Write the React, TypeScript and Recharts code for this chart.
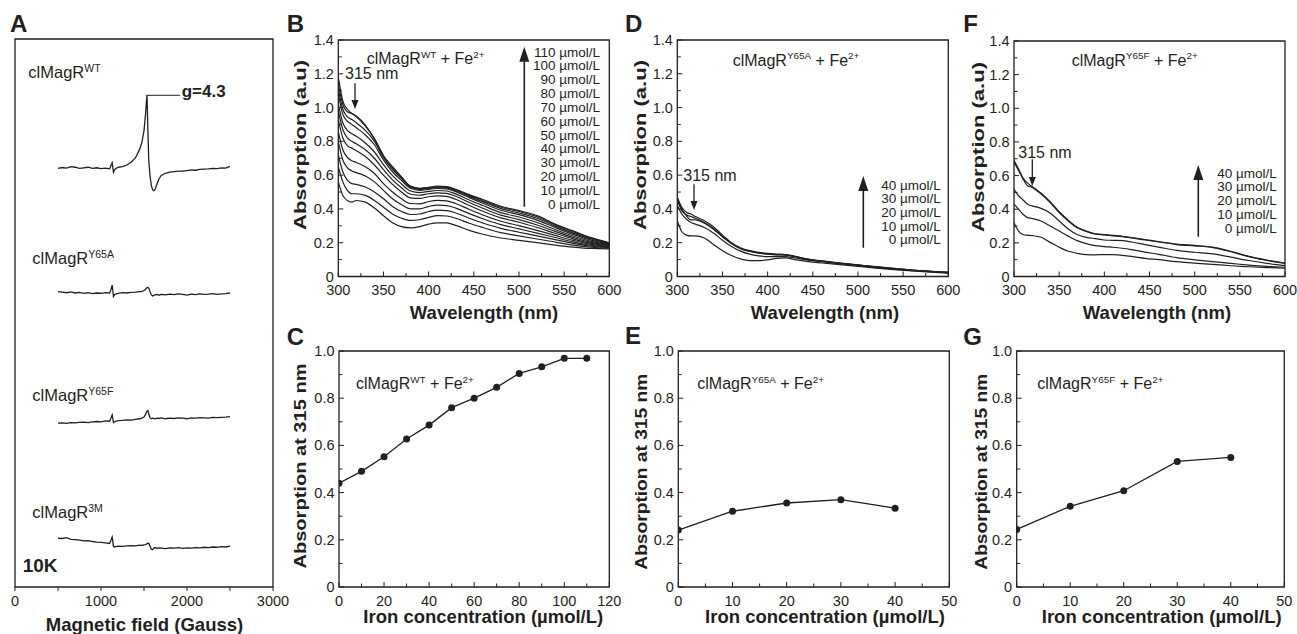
import { LineChart, Line, XAxis, YAxis, ReferenceArea } from "recharts";

const FONT = "'Liberation Sans', Arial, Helvetica, sans-serif";
const NARROW = "'Liberation Sans Narrow', 'Liberation Sans', Arial, sans-serif";
const INK = "#231f20";
const X_AXIS_H = 30;
const Y_AXIS_W = 40;

// ---- A: EPR spectra (signal relative to each trace's baseline) ----
const EPR_FIELD = [500, 550, 600, 650, 700, 750, 800, 850, 900, 950, 1000, 1050, 1100, 1115, 1130, 1145, 1160, 1200, 1250, 1300, 1350, 1400, 1450, 1475, 1500, 1515, 1525, 1535, 1545, 1555, 1570, 1585, 1600, 1615, 1630, 1650, 1675, 1700, 1750, 1800, 1850, 1900, 1950, 2000, 2050, 2100, 2150, 2200, 2250, 2300, 2350, 2400, 2450, 2500];
const EPR_WT = [-0.1, 0.05, -0.05, 0.2, 0.1, -0.1, 0, 0.1, -0.1, 0, -0.15, -0.05, -0.2, 0.4, 0.9, -0.8, -0.3, 0.1, 0.2, 0.5, 1.0, 1.8, 3.4, 4.6, 6.8, 9.2, 11.4, 13.3, 7.0, 1.5, -1.5, -3.2, -4.0, -4.2, -3.9, -3.0, -2.0, -1.4, -1.0, -0.8, -0.7, -0.6, -0.6, -0.5, -0.4, -0.45, -0.3, -0.25, -0.2, -0.1, -0.15, 0, -0.05, 0.25];
const EPR_Y65A = [0.3, 0.2, 0.1, 0.25, 0.05, 0.15, 0, 0.1, -0.05, 0.05, 0, 0.1, 0.05, 0.6, 1.5, -0.6, -0.2, 0, 0.1, 0.05, 0.15, 0.2, 0.3, 0.35, 0.5, 0.7, 0.9, 1.0, 1.1, 0.9, 0.3, -0.3, -0.5, -0.4, -0.3, -0.2, -0.35, -0.2, -0.3, -0.15, -0.25, -0.1, -0.2, -0.35, -0.15, -0.25, -0.1, -0.2, -0.15, -0.05, -0.2, -0.1, -0.05, 0.05];
const EPR_Y65F = [-0.1, -0.05, -0.15, 0, -0.05, 0.05, 0.1, 0, 0.15, 0.2, 0.15, 0.3, 0.25, 0.8, 1.4, 0, 0.2, 0.35, 0.4, 0.5, 0.45, 0.6, 0.7, 0.8, 1.0, 1.4, 1.8, 2.1, 2.2, 1.6, 0.9, 0.7, 0.8, 0.75, 0.7, 0.8, 0.75, 0.85, 0.7, 0.8, 0.75, 0.85, 0.8, 0.7, 0.85, 0.8, 0.9, 0.85, 0.8, 0.95, 0.9, 0.95, 1.0, 1.1];
const EPR_3M = [0.9, 0.85, 1.0, 0.7, 0.65, 0.55, 0.4, 0.45, 0.3, 0.2, 0.15, 0.05, -0.05, 0.5, 1.1, -0.6, -0.7, -0.55, -0.6, -0.5, -0.45, -0.5, -0.35, -0.4, -0.3, -0.25, -0.2, -0.1, -0.05, 0, -0.5, -1.1, -1.2, -0.9, -0.8, -0.95, -0.85, -0.9, -1.0, -0.85, -0.9, -0.8, -0.95, -0.85, -0.9, -0.8, -0.85, -0.75, -0.8, -0.7, -0.75, -0.65, -0.7, -0.55];
const EPR_TRACES = [EPR_WT, EPR_Y65A, EPR_Y65F, EPR_3M];
const EPR_OFFSET = [76.5, 53.6, 30, 8];
const EPR_X_TICKS = [0, 500, 1000, 1500, 2000, 2500, 3000];

// ---- B, D, F: UV-vis spectra ----
const WAVELENGTH = [300, 305, 310, 315, 320, 330, 340, 350, 360, 370, 380, 390, 400, 410, 420, 430, 445, 460, 480, 500, 520, 540, 560, 580, 600];
const WT_CONC = [0, 10, 20, 30, 40, 50, 60, 70, 80, 90, 100, 110];
const WT_SPECTRA = [
  [0.56, 0.48, 0.45, 0.44, 0.45, 0.44, 0.405, 0.36, 0.318, 0.295, 0.288, 0.295, 0.31, 0.318, 0.317, 0.303, 0.273, 0.25, 0.228, 0.214, 0.2, 0.186, 0.174, 0.166, 0.164],
  [0.65, 0.56, 0.51, 0.49, 0.49, 0.48, 0.45, 0.41, 0.37, 0.345, 0.332, 0.336, 0.35, 0.36, 0.358, 0.345, 0.315, 0.29, 0.26, 0.24, 0.222, 0.204, 0.186, 0.173, 0.168],
  [0.72, 0.62, 0.57, 0.55, 0.545, 0.53, 0.5, 0.46, 0.415, 0.385, 0.367, 0.37, 0.385, 0.393, 0.39, 0.376, 0.345, 0.317, 0.285, 0.262, 0.24, 0.218, 0.196, 0.179, 0.171],
  [0.8, 0.69, 0.645, 0.625, 0.615, 0.595, 0.56, 0.51, 0.46, 0.425, 0.4, 0.4, 0.415, 0.423, 0.42, 0.405, 0.372, 0.342, 0.307, 0.282, 0.257, 0.231, 0.205, 0.184, 0.174],
  [0.86, 0.75, 0.705, 0.685, 0.675, 0.65, 0.61, 0.55, 0.5, 0.46, 0.432, 0.43, 0.444, 0.451, 0.448, 0.432, 0.397, 0.364, 0.327, 0.301, 0.273, 0.243, 0.214, 0.19, 0.178],
  [0.93, 0.82, 0.775, 0.76, 0.745, 0.71, 0.66, 0.6, 0.545, 0.5, 0.465, 0.462, 0.472, 0.477, 0.474, 0.457, 0.42, 0.386, 0.347, 0.321, 0.29, 0.256, 0.223, 0.196, 0.182],
  [0.98, 0.87, 0.82, 0.8, 0.785, 0.75, 0.7, 0.632, 0.572, 0.525, 0.487, 0.481, 0.49, 0.495, 0.492, 0.475, 0.438, 0.404, 0.363, 0.337, 0.305, 0.267, 0.231, 0.202, 0.185],
  [1.02, 0.91, 0.865, 0.845, 0.83, 0.79, 0.737, 0.662, 0.597, 0.548, 0.506, 0.497, 0.504, 0.509, 0.506, 0.489, 0.453, 0.42, 0.378, 0.352, 0.32, 0.278, 0.24, 0.208, 0.189],
  [1.08, 0.96, 0.92, 0.9, 0.88, 0.838, 0.78, 0.69, 0.62, 0.568, 0.522, 0.51, 0.516, 0.521, 0.518, 0.502, 0.467, 0.434, 0.392, 0.366, 0.334, 0.29, 0.249, 0.215, 0.193],
  [1.11, 0.99, 0.945, 0.93, 0.91, 0.865, 0.8, 0.705, 0.634, 0.58, 0.528, 0.516, 0.521, 0.526, 0.523, 0.507, 0.474, 0.443, 0.402, 0.376, 0.345, 0.298, 0.257, 0.222, 0.196],
  [1.14, 1.02, 0.975, 0.965, 0.945, 0.89, 0.815, 0.715, 0.643, 0.586, 0.532, 0.52, 0.525, 0.53, 0.528, 0.512, 0.48, 0.45, 0.41, 0.385, 0.354, 0.305, 0.264, 0.227, 0.198],
  [1.18, 1.04, 0.99, 0.965, 0.95, 0.895, 0.815, 0.715, 0.65, 0.59, 0.535, 0.522, 0.528, 0.535, 0.532, 0.516, 0.485, 0.456, 0.416, 0.39, 0.36, 0.31, 0.27, 0.23, 0.2],
];
const MUT_CONC = [0, 10, 20, 30, 40];
const Y65A_SPECTRA = [
  [0.33, 0.265, 0.245, 0.24, 0.24, 0.228, 0.19, 0.153, 0.124, 0.104, 0.094, 0.094, 0.098, 0.107, 0.11, 0.1, 0.088, 0.08, 0.07, 0.06, 0.05, 0.041, 0.033, 0.026, 0.02],
  [0.42, 0.37, 0.34, 0.32, 0.31, 0.29, 0.258, 0.215, 0.178, 0.15, 0.132, 0.122, 0.118, 0.118, 0.118, 0.11, 0.097, 0.088, 0.076, 0.065, 0.054, 0.044, 0.035, 0.028, 0.022],
  [0.45, 0.39, 0.365, 0.355, 0.345, 0.32, 0.285, 0.238, 0.196, 0.165, 0.148, 0.138, 0.132, 0.128, 0.126, 0.117, 0.1, 0.09, 0.078, 0.067, 0.056, 0.046, 0.037, 0.03, 0.024],
  [0.47, 0.41, 0.38, 0.37, 0.355, 0.33, 0.295, 0.245, 0.2, 0.17, 0.153, 0.143, 0.137, 0.133, 0.13, 0.12, 0.103, 0.092, 0.08, 0.069, 0.058, 0.048, 0.038, 0.031, 0.025],
  [0.46, 0.4, 0.36, 0.335, 0.335, 0.315, 0.28, 0.235, 0.195, 0.166, 0.15, 0.14, 0.134, 0.13, 0.128, 0.119, 0.102, 0.091, 0.079, 0.068, 0.057, 0.047, 0.038, 0.03, 0.024],
];
const Y65F_SPECTRA = [
  [0.32, 0.27, 0.25, 0.245, 0.243, 0.233, 0.203, 0.174, 0.15, 0.138, 0.13, 0.129, 0.13, 0.13, 0.126, 0.12, 0.108, 0.1, 0.088, 0.079, 0.072, 0.064, 0.058, 0.053, 0.049],
  [0.43, 0.4, 0.37, 0.35, 0.345, 0.33, 0.3, 0.27, 0.24, 0.213, 0.195, 0.183, 0.178, 0.174, 0.168, 0.16, 0.145, 0.132, 0.112, 0.099, 0.088, 0.078, 0.068, 0.06, 0.055],
  [0.52, 0.48, 0.455, 0.43, 0.42, 0.405, 0.378, 0.33, 0.283, 0.25, 0.233, 0.225, 0.217, 0.215, 0.213, 0.205, 0.19, 0.175, 0.155, 0.144, 0.134, 0.115, 0.095, 0.078, 0.065],
  [0.68, 0.63, 0.58, 0.54, 0.53, 0.49, 0.44, 0.38, 0.33, 0.29, 0.268, 0.252, 0.247, 0.242, 0.237, 0.23, 0.217, 0.205, 0.19, 0.182, 0.172, 0.148, 0.118, 0.095, 0.078],
  [0.69, 0.64, 0.585, 0.555, 0.535, 0.495, 0.445, 0.385, 0.335, 0.293, 0.27, 0.254, 0.249, 0.244, 0.239, 0.232, 0.22, 0.208, 0.193, 0.185, 0.175, 0.15, 0.12, 0.098, 0.08],
];
const SPEC_X_TICKS = [300, 325, 350, 375, 400, 425, 450, 475, 500, 525, 550, 575, 600];
const SPEC_Y_TICKS = [0, 0.1, 0.2, 0.3, 0.4, 0.5, 0.6, 0.7, 0.8, 0.9, 1.0, 1.1, 1.2, 1.3, 1.4];

// ---- C, E, G: absorption at 315 nm vs iron ----
const WT_A315 = [0.44, 0.49, 0.552, 0.627, 0.686, 0.76, 0.8, 0.846, 0.905, 0.933, 0.969, 0.969];
const Y65A_A315 = [0.241, 0.321, 0.356, 0.37, 0.334];
const Y65F_A315 = [0.244, 0.342, 0.408, 0.532, 0.549];
const C_X_TICKS = [0, 10, 20, 30, 40, 50, 60, 70, 80, 90, 100, 110, 120];
const EG_X_TICKS = [0, 5, 10, 15, 20, 25, 30, 35, 40, 45, 50];
const TITR_Y_TICKS = [0, 0.1, 0.2, 0.3, 0.4, 0.5, 0.6, 0.7, 0.8, 0.9, 1.0];

const fmtDec = (v: number) => (v === 0 ? "0" : v.toFixed(1));
const evenTenth = (v: number) => Math.round(v * 10) % 2 === 0;

const bottomTick = (isMajor: (v: number) => boolean, inward = true) => (p: any) => {
  const v = p.payload.value;
  const major = isMajor(v);
  const len = major ? 5 : 3.5;
  return (
    <g>
      <line x1={p.x} x2={p.x} y1={p.y} y2={inward ? p.y - len : p.y + 4} stroke={INK} strokeWidth={1} />
      {major && (
        <text x={p.x} y={p.y + 18.5} textAnchor="middle" fontSize={14.5} fontFamily={FONT} fill={INK}>
          {String(v)}
        </text>
      )}
    </g>
  );
};

const leftTick = (p: any) => {
  const v = p.payload.value;
  const major = evenTenth(v);
  return (
    <g>
      <line x1={p.x} x2={p.x + (major ? 5 : 3.5)} y1={p.y} y2={p.y} stroke={INK} strokeWidth={1} />
      {major && (
        <text x={p.x - 4.5} y={p.y + 5} textAnchor="end" fontSize={14.5} fontFamily={FONT} fill={INK}>
          {fmtDec(v)}
        </text>
      )}
    </g>
  );
};

const rows = (xs: number[], series: number[][], offsets?: number[]) =>
  xs.map((x, i) => {
    const r: Record<string, number> = { x };
    series.forEach((s, k) => (r[`s${k}`] = s[i] + (offsets ? offsets[k] : 0)));
    return r;
  });

type Box = { left: number; top: number; width: number; height: number };
type Margin = { top: number; right: number; bottom: number; left: number };

// margins are given for the plot area itself; the axis bands are taken out of them
const chartMargin = (m: Margin, withY: boolean) => ({
  top: m.top,
  right: m.right,
  bottom: m.bottom - X_AXIS_H,
  left: withY ? m.left - Y_AXIS_W : m.left,
});

function frame(xDomain: number[], xTicks: number[], xTick: any, yDomain: number[], yTicks: number[] | null) {
  return [
    <XAxis key="x" type="number" dataKey="x" domain={xDomain} allowDataOverflow ticks={xTicks} interval={0}
      height={X_AXIS_H} tickSize={0} tickMargin={0} axisLine={false} tickLine={false} tick={xTick} />,
    yTicks ? (
      <YAxis key="y" type="number" domain={yDomain} allowDataOverflow ticks={yTicks} interval={0}
        width={Y_AXIS_W} tickSize={0} tickMargin={0} axisLine={false} tickLine={false} tick={leftTick} />
    ) : (
      <YAxis key="y" type="number" domain={yDomain} allowDataOverflow hide />
    ),
    <ReferenceArea key="box" x1={xDomain[0]} x2={xDomain[1]} y1={yDomain[0]} y2={yDomain[1]}
      fill="none" stroke={INK} strokeWidth={1.3} fillOpacity={0} />,
  ];
}

function SpectraChart({ box, margin, series }: { box: Box; margin: Margin; series: number[][] }) {
  return (
    <div style={{ position: "absolute", ...box }}>
      <LineChart width={box.width} height={box.height} margin={chartMargin(margin, true)} data={rows(WAVELENGTH, series)}>
        {frame([300, 600], SPEC_X_TICKS, bottomTick((v) => v % 50 === 0), [0, 1.4], SPEC_Y_TICKS)}
        {series.map((_, k) => (
          <Line key={k} dataKey={`s${k}`} type="monotone" stroke={INK} strokeWidth={1.2} dot={false} isAnimationActive={false} />
        ))}
      </LineChart>
    </div>
  );
}

function TitrationChart({ box, margin, conc, values, xMax, xTicks, majorStep }:
  { box: Box; margin: Margin; conc: number[]; values: number[]; xMax: number; xTicks: number[]; majorStep: number }) {
  return (
    <div style={{ position: "absolute", ...box }}>
      <LineChart width={box.width} height={box.height} margin={chartMargin(margin, true)} data={rows(conc, [values])}>
        {frame([0, xMax], xTicks, bottomTick((v) => v % majorStep === 0), [0, 1], TITR_Y_TICKS)}
        <Line dataKey="s0" type="linear" stroke={INK} strokeWidth={1.3}
          dot={{ r: 3.5, fill: INK, stroke: INK, strokeWidth: 0 }} isAnimationActive={false} />
      </LineChart>
    </div>
  );
}

const Formula = ({ x, y, sup, size = 16 }: { x: number; y: number; sup: string; size?: number }) => (
  <text x={x} y={y} fontSize={size} fontFamily={FONT} fill={INK}>
    clMagR
    <tspan dy={-size * 0.38} fontSize={size * 0.62}>{sup}</tspan>
    <tspan dy={size * 0.38} fontSize={size}> + Fe</tspan>
    <tspan dy={-size * 0.38} fontSize={size * 0.62}>2+</tspan>
  </text>
);

const EprLabel = ({ x, y, sup }: { x: number; y: number; sup: string }) => (
  <text x={x} y={y} fontSize={16.5} fontFamily={NARROW} fill={INK}>
    clMagR<tspan dy={-6} fontSize={10.5}>{sup}</tspan>
  </text>
);

const VTitle = ({ cx, cy, text, len }: { cx: number; cy: number; text: string; len: number }) => (
  <text x={cx} y={cy} transform={`rotate(-90 ${cx} ${cy})`} textAnchor="middle" dominantBaseline="central"
    fontSize={17} fontWeight="bold" fontFamily={FONT} fill={INK} textLength={len} lengthAdjust="spacingAndGlyphs">
    {text}
  </text>
);

const HTitle = ({ cx, y, text }: { cx: number; y: number; text: string }) => (
  <text x={cx} y={y} textAnchor="middle" fontSize={18.5} fontWeight="bold" fontFamily={FONT} fill={INK}>{text}</text>
);

const Letter = ({ x, y, c }: { x: number; y: number; c: string }) => (
  <text x={x} y={y} fontSize={24} fontWeight="bold" fontFamily={FONT} fill={INK}>{c}</text>
);

const UpArrow = ({ x, y1, y2, head = 15, w = 5, sw = 1.6 }: { x: number; y1: number; y2: number; head?: number; w?: number; sw?: number }) => (
  <g>
    <line x1={x} x2={x} y1={y1} y2={y2 + head - 2} stroke={INK} strokeWidth={sw} />
    <polygon points={`${x},${y2} ${x - w},${y2 + head} ${x + w},${y2 + head}`} fill={INK} />
  </g>
);

const DownArrow = ({ x, y1, y2 }: { x: number; y1: number; y2: number }) => (
  <g>
    <line x1={x} x2={x} y1={y1} y2={y2 - 6} stroke={INK} strokeWidth={1.3} />
    <polygon points={`${x},${y2} ${x - 3.5},${y2 - 9} ${x + 3.5},${y2 - 9}`} fill={INK} />
  </g>
);

const Legend = ({ right, y0, step, conc }: { right: number; y0: number; step: number; conc: number[] }) => (
  <g>
    {[...conc].reverse().map((c, i) => (
      <text key={c} x={right} y={y0 + i * step} textAnchor="end" fontSize={13.5} fontFamily={FONT} fill={INK}>
        {`${c} µmol/L`}
      </text>
    ))}
  </g>
);

export default function App() {
  const eprBox = { left: 0, top: 0, width: 290, height: 634 };
  return (
    <div style={{ position: "absolute", left: 0, top: 0, width: 1297, height: 634, background: "#fff", overflow: "hidden" }}>
      <div style={{ position: "absolute", ...eprBox }}>
        <LineChart width={eprBox.width} height={eprBox.height}
          margin={chartMargin({ top: 39, right: 17, bottom: 47, left: 15 }, false)}
          data={rows(EPR_FIELD, EPR_TRACES, EPR_OFFSET)}>
          {frame([0, 3000], EPR_X_TICKS, bottomTick((v) => v % 1000 === 0, false), [0, 100], null)}
          {EPR_TRACES.map((_, k) => (
            <Line key={k} dataKey={`s${k}`} type="linear" stroke={INK} strokeWidth={1.3} dot={false} isAnimationActive={false} />
          ))}
        </LineChart>
      </div>

      <SpectraChart box={{ left: 280, top: 0, width: 352, height: 320 }} margin={{ top: 40, right: 22.7, bottom: 43.5, left: 58.3 }} series={WT_SPECTRA} />
      <SpectraChart box={{ left: 620, top: 0, width: 352, height: 320 }} margin={{ top: 40, right: 23.7, bottom: 43.5, left: 57.3 }} series={Y65A_SPECTRA} />
      <SpectraChart box={{ left: 950, top: 0, width: 347, height: 320 }} margin={{ top: 41, right: 12, bottom: 43.5, left: 64 }} series={Y65F_SPECTRA} />

      <TitrationChart box={{ left: 280, top: 320, width: 352, height: 314 }} margin={{ top: 31, right: 22.7, bottom: 47, left: 59 }}
        conc={WT_CONC} values={WT_A315} xMax={120} xTicks={C_X_TICKS} majorStep={20} />
      <TitrationChart box={{ left: 620, top: 320, width: 352, height: 314 }} margin={{ top: 31, right: 22.7, bottom: 47, left: 58.3 }}
        conc={MUT_CONC} values={Y65A_A315} xMax={50} xTicks={EG_X_TICKS} majorStep={10} />
      <TitrationChart box={{ left: 950, top: 320, width: 347, height: 314 }} margin={{ top: 31, right: 12.7, bottom: 47, left: 66.7 }}
        conc={MUT_CONC} values={Y65F_A315} xMax={50} xTicks={EG_X_TICKS} majorStep={10} />

      <svg width={1297} height={634} style={{ position: "absolute", left: 0, top: 0, pointerEvents: "none" }}>
        {/* panel letters */}
        <Letter x={10} y={32} c="A" />
        <Letter x={286.7} y={31.7} c="B" />
        <Letter x={286.7} y={345} c="C" />
        <Letter x={625} y={31.7} c="D" />
        <Letter x={625} y={344} c="E" />
        <Letter x={963.3} y={31.7} c="F" />
        <Letter x={963.3} y={345} c="G" />

        {/* A */}
        <EprLabel x={28.3} y={77.5} sup="WT" />
        <EprLabel x={32.3} y={264} sup="Y65A" />
        <EprLabel x={32.3} y={400.5} sup="Y65F" />
        <EprLabel x={32.3} y={517.5} sup="3M" />
        <line x1={147} x2={180} y1={95.3} y2={95.3} stroke={INK} strokeWidth={1} />
        <text x={181.7} y={96.5} fontSize={17} fontWeight="bold" fontFamily={FONT} fill={INK}>g=4.3</text>
        <text x={22.7} y={572} fontSize={19} fontWeight="bold" fontFamily={FONT} fill={INK}>10K</text>
        <HTitle cx={144.5} y={631} text="Magnetic field (Gauss)" />

        {/* B */}
        <Formula x={366.7} y={64} sup="WT" />
        <text x={345} y={79} fontSize={16} fontFamily={FONT} fill={INK}>315 nm</text>
        <DownArrow x={355} y1={83.3} y2={109} />
        <UpArrow x={524.3} y1={206.7} y2={46.7} />
        <Legend right={600} y0={56.5} step={13.85} conc={WT_CONC} />
        <VTitle cx={300} cy={145} text="Absorption (a.u)" len={170} />
        <HTitle cx={484} y={318.5} text="Wavelength (nm)" />

        {/* D */}
        <Formula x={732.7} y={65.5} sup="Y65A" />
        <text x={683.3} y={181} fontSize={16} fontFamily={FONT} fill={INK}>315 nm</text>
        <DownArrow x={694} y1={184.3} y2={210} />
        <UpArrow x={863.3} y1={247.7} y2={176} />
        <Legend right={940.7} y0={189.8} step={13.6} conc={MUT_CONC} />
        <VTitle cx={640} cy={145} text="Absorption (a.u)" len={170} />
        <HTitle cx={825} y={318.5} text="Wavelength (nm)" />

        {/* F */}
        <Formula x={1071.7} y={65.5} sup="Y65F" />
        <text x={1018.3} y={157.5} fontSize={16} fontFamily={FONT} fill={INK}>315 nm</text>
        <DownArrow x={1032.3} y1={159.3} y2={186} />
        <UpArrow x={1198.3} y1={236.7} y2={165} />
        <Legend right={1276.7} y0={177.5} step={13.9} conc={MUT_CONC} />
        <VTitle cx={978.3} cy={147} text="Absorption (a.u)" len={170} />
        <HTitle cx={1157} y={318.5} text="Wavelength (nm)" />

        {/* C, E, G */}
        <Formula x={356} y={389} sup="WT" />
        <VTitle cx={300.7} cy={466} text="Absorption at 315 nm" len={205} />
        <HTitle cx={483.3} y={623} text="Iron concentration (µmol/L)" />

        <Formula x={697.3} y={389} sup="Y65A" />
        <VTitle cx={641.7} cy={471.7} text="Absorption at 315 nm" len={196} />
        <HTitle cx={825} y={623} text="Iron concentration (µmol/L)" />

        <Formula x={1037.3} y={389} sup="Y65F" />
        <VTitle cx={981.7} cy={471.7} text="Absorption at 315 nm" len={196} />
        <HTitle cx={1161.7} y={623} text="Iron concentration (µmol/L)" />
      </svg>
    </div>
  );
}
